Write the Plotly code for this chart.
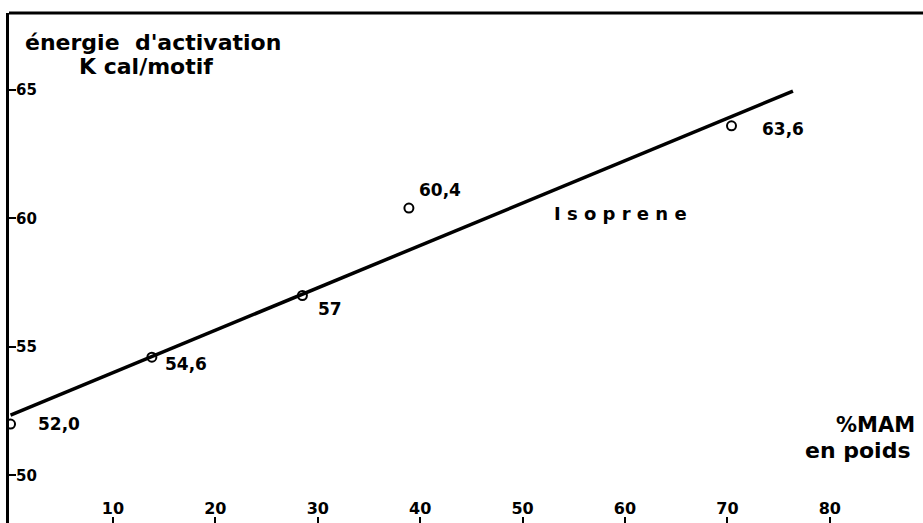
import plotly.graph_objects as go

# Data
mam_pct = [0, 13.8, 28.5, 38.9, 70.4]
energy = [52.0, 54.6, 57.0, 60.4, 63.6]
point_labels = ["52,0", "54,6", "57", "60,4", "63,6"]
# fitted line endpoints
line_x = [0, 76.4]
line_y = [52.35, 64.95]
x_ticks = [10, 20, 30, 40, 50, 60, 70, 80]
y_ticks = [50, 55, 60, 65]

FONT = "DejaVu Sans"
W, H = 923, 523
L, T = 9, 13

fig = go.Figure()
fig.add_trace(go.Scatter(x=line_x, y=line_y, mode="lines",
                         line=dict(color="black", width=3.5), showlegend=False,
                         hoverinfo="skip"))
fig.add_trace(go.Scatter(x=mam_pct, y=energy, mode="markers",
                         marker=dict(symbol="circle-open", size=9, color="black",
                                     line=dict(width=2, color="black")),
                         showlegend=False))

# point labels (pixel offsets from the points)
offsets = [(25, 0), (11, -7), (14, -13), (8, 18), (28, -3)]
for x, y, t, (dx, dy) in zip(mam_pct, energy, point_labels, offsets):
    fig.add_annotation(x=x, y=y, text=t, showarrow=False, xanchor="left",
                       yanchor="middle", xshift=dx, yshift=dy,
                       font=dict(family=FONT, size=17, color="black", weight="bold"))

def px(xp):
    return (xp - L) / (W - L)

def py(yp):
    return (H - yp) / (H - T)

texts = [
    ("énergie  d'activation", 23, 42, "left", 22),
    ("K cal/motif", 77, 67, "left", 22),
    ("%MAM", 917, 425, "right", 21),
    ("en poids", 913, 450, "right", 22),
    ("I s o p r e n e", 552, 213, "left", 18),
]
for t, xp, yp, anc, sz in texts:
    fig.add_annotation(x=px(xp), y=py(yp), xref="paper", yref="paper", text=t,
                       showarrow=False, xanchor=anc, yanchor="middle",
                       font=dict(family=FONT, size=sz, color="black", weight="bold"))

# top border line
fig.add_shape(type="line", xref="paper", yref="paper", x0=0, x1=1, y0=1, y1=1,
              line=dict(color="black", width=3))

fig.update_layout(
    width=W, height=H,
    margin=dict(l=L, r=0, t=T, b=0),
    plot_bgcolor="white", paper_bgcolor="white",
    xaxis=dict(range=[-0.15, 89.1], tickvals=x_ticks, ticks="inside", ticklen=6,
               tickwidth=2, tickcolor="black", ticklabelposition="inside",
               showgrid=False, zeroline=False, showline=False,
               tickfont=dict(family=FONT, size=16, color="black", weight="bold")),
    yaxis=dict(range=[48.15, 67.99], tickvals=y_ticks, ticks="inside", ticklen=7,
               tickwidth=2, tickcolor="black", ticklabelposition="inside",
               showgrid=False, zeroline=False, showline=True, linewidth=3,
               linecolor="black",
               tickfont=dict(family=FONT, size=15, color="black", weight="bold")),
)

fig.write_html("out.html", config={"displayModeBar": False},
               post_script="document.body.style.margin='0';"
                           "document.body.style.overflow='hidden';")
